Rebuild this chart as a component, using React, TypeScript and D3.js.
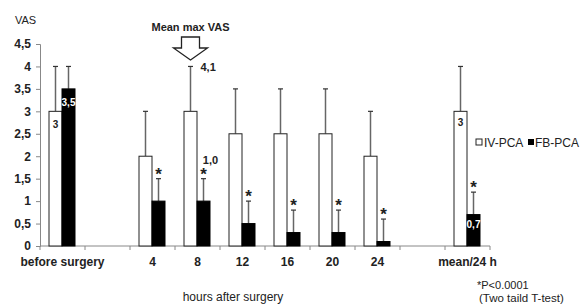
import React from 'react';
import * as d3 from 'd3';

// slots along the x axis (two empty gaps, as in the original figure)
const slots = ['before surgery', 'gap1', '4', '8', '12', '16', '20', '24', 'gap2', 'mean/24 h'];
const groups = ['before surgery', '4', '8', '12', '16', '20', '24', 'mean/24 h'];
const series = ['IV-PCA', 'FB-PCA'];

const ivMean = [3, 2, 3, 2.5, 2.5, 2.5, 2, 3];
const ivUpper = [4, 3, 4, 3.5, 3.5, 3.5, 3, 4];
const fbMean = [3.5, 1, 1, 0.5, 0.3, 0.3, 0.1, 0.7];
const fbUpper = [4, 1.5, 1.5, 1, 0.8, 0.8, 0.6, 1.2];
const significant = [false, true, true, true, true, true, true, true];

const yTicks = [0, 0.5, 1, 1.5, 2, 2.5, 3, 3.5, 4, 4.5];

const W = 583;
const H = 304;
const FONT = '"Liberation Sans", Arial, sans-serif';

const fmt = (v: number) => String(v).replace('.', ',');

const App = () => {
  const ref = React.useRef<SVGSVGElement>(null);

  React.useEffect(() => {
    const svg = d3.select(ref.current);
    svg.selectAll('*').remove();
    svg.attr('font-family', FONT);

    const x = d3.scaleBand().domain(slots).range([40, 490]);
    const xs = d3.scaleBand().domain(series).range([9, 35]);
    const y = d3.scaleLinear().domain([0, 4.5]).range([246, 44]);

    // y axis
    const ya = svg.append('g').attr('transform', 'translate(40,0)')
      .call(d3.axisLeft(y).tickValues(yTicks).tickSize(4).tickFormat(d => fmt(+d)));
    ya.select('.domain').attr('stroke', '#888');
    ya.selectAll('.tick line').attr('stroke', '#888');
    ya.selectAll('.tick text')
      .attr('x', -9)
      .attr('font-size', 12).attr('font-weight', 'bold').attr('font-family', FONT).attr('fill', '#222');

    // x axis: ticks at slot boundaries
    const bounds = slots.map(s => x(s)!).concat([x.range()[1]]);
    svg.append('line')
      .attr('x1', 40).attr('x2', 490).attr('y1', y(0)).attr('y2', y(0))
      .attr('stroke', '#888');
    svg.selectAll('.xtick').data(bounds).enter().append('line')
      .attr('x1', d => d).attr('x2', d => d)
      .attr('y1', y(0)).attr('y2', y(0) + 4)
      .attr('stroke', '#888');
    svg.selectAll('.xlab').data(groups).enter().append('text')
      .attr('x', d => x(d)! + x.bandwidth() / 2)
      .attr('y', 266)
      .attr('text-anchor', 'middle')
      .attr('font-size', 12).attr('font-weight', 'bold').attr('fill', '#222')
      .text(d => d);

    const rows = groups.map((g, i) => ({
      g, iv: ivMean[i], ivU: ivUpper[i], fb: fbMean[i], fbU: fbUpper[i], sig: significant[i],
    }));

    // error bars (drawn first so bars sit on top)
    const err = (key: 'ivU' | 'fbU', base: 'iv' | 'fb', s: string) => {
      const gx = (d: any) => x(d.g)! + xs(s)! + xs.bandwidth() / 2;
      svg.selectAll('.e' + key).data(rows).enter().append('line')
        .attr('x1', gx).attr('x2', gx)
        .attr('y1', d => y(d[base])).attr('y2', d => y(d[key]))
        .attr('stroke', '#666').attr('stroke-width', 1.5);
      svg.selectAll('.c' + key).data(rows).enter().append('line')
        .attr('x1', d => gx(d) - 2.5).attr('x2', d => gx(d) + 2.5)
        .attr('y1', d => y(d[key])).attr('y2', d => y(d[key]))
        .attr('stroke', '#333').attr('stroke-width', 1.2);
    };
    err('ivU', 'iv', 'IV-PCA');
    err('fbU', 'fb', 'FB-PCA');

    // bars
    svg.selectAll('.biv').data(rows).enter().append('rect')
      .attr('x', d => x(d.g)! + xs('IV-PCA')!)
      .attr('y', d => y(d.iv))
      .attr('width', xs.bandwidth())
      .attr('height', d => y(0) - y(d.iv))
      .attr('fill', '#fff').attr('stroke', '#222').attr('stroke-width', 1);
    svg.selectAll('.bfb').data(rows).enter().append('rect')
      .attr('x', d => x(d.g)! + xs('FB-PCA')!)
      .attr('y', d => y(d.fb))
      .attr('width', xs.bandwidth())
      .attr('height', d => y(0) - y(d.fb))
      .attr('fill', '#000').attr('stroke', '#000').attr('stroke-width', 1);

    // significance stars
    svg.selectAll('.star').data(rows.filter(d => d.sig)).enter().append('text')
      .attr('x', d => x(d.g)! + xs('FB-PCA')! + xs.bandwidth() / 2)
      .attr('y', d => y(d.fbU) + 1)
      .attr('text-anchor', 'middle')
      .attr('font-size', 17).attr('font-weight', 'bold').attr('fill', '#222')
      .text('*');

    // value labels
    const cx = (g: string, s: string) => x(g)! + xs(s)! + xs.bandwidth() / 2;
    const label = (tx: number, ty: number, t: string, fill = '#222') =>
      svg.append('text').attr('x', tx).attr('y', ty).attr('text-anchor', 'middle')
        .attr('font-size', 10).attr('font-weight', 'bold').attr('fill', fill).text(t);
    label(cx('before surgery', 'IV-PCA'), y(ivMean[0]) + 17, fmt(ivMean[0]));
    label(cx('before surgery', 'FB-PCA'), y(fbMean[0]) + 17, fmt(fbMean[0]), '#fff');
    label(cx('mean/24 h', 'IV-PCA'), y(ivMean[7]) + 15, fmt(ivMean[7]));
    label(cx('mean/24 h', 'FB-PCA'), y(fbMean[7]) + 13, fmt(fbMean[7]), '#fff');
    svg.append('text').attr('x', cx('8', 'IV-PCA') + 10).attr('y', y(4.1) + 9)
      .attr('font-size', 11).attr('font-weight', 'bold').attr('fill', '#222').text('4,1');
    svg.append('text').attr('x', cx('8', 'FB-PCA') + 7).attr('y', y(1.0) - 37)
      .attr('text-anchor', 'middle')
      .attr('font-size', 11).attr('font-weight', 'bold').attr('fill', '#222').text('1,0');

    // "Mean max VAS" arrow
    const ax = cx('8', 'IV-PCA');
    svg.append('text').attr('x', ax).attr('y', 31).attr('text-anchor', 'middle')
      .attr('font-size', 11).attr('font-weight', 'bold').attr('fill', '#222').text('Mean max VAS');
    svg.append('path')
      .attr('d', `M${ax - 9},37 H${ax + 9} V48 H${ax + 17} L${ax},60 L${ax - 17},48 H${ax - 9} Z`)
      .attr('fill', '#fff').attr('stroke', '#222').attr('stroke-width', 1.3);

    // titles
    svg.append('text').attr('x', 15).attr('y', 24).attr('font-size', 11).attr('fill', '#222').text('VAS');
    svg.append('text').attr('x', 233).attr('y', 301).attr('text-anchor', 'middle')
      .attr('font-size', 12).attr('fill', '#222').text('hours after surgery');
    svg.append('text').attr('x', 477).attr('y', 289).attr('font-size', 11).attr('fill', '#222').text('*P<0.0001');
    svg.append('text').attr('x', 479).attr('y', 302).attr('font-size', 11.5).attr('fill', '#222').text('(Two taild T-test)');

    // legend
    const lg = svg.append('g').attr('transform', 'translate(476,142)');
    lg.append('rect').attr('x', 0).attr('y', -3).attr('width', 6).attr('height', 6)
      .attr('fill', '#fff').attr('stroke', '#222');
    lg.append('text').attr('x', 8).attr('y', 4.5).attr('font-size', 12).attr('fill', '#222').text(series[0]);
    lg.append('rect').attr('x', 52).attr('y', -3).attr('width', 6).attr('height', 6).attr('fill', '#000');
    lg.append('text').attr('x', 59).attr('y', 4.5).attr('font-size', 12).attr('fill', '#222').text(series[1]);
  }, []);

  return (
    <svg ref={ref} width={W} height={H}
      style={{ position: 'absolute', left: 0, top: 0, background: '#fff' }} />
  );
};

export default App;
